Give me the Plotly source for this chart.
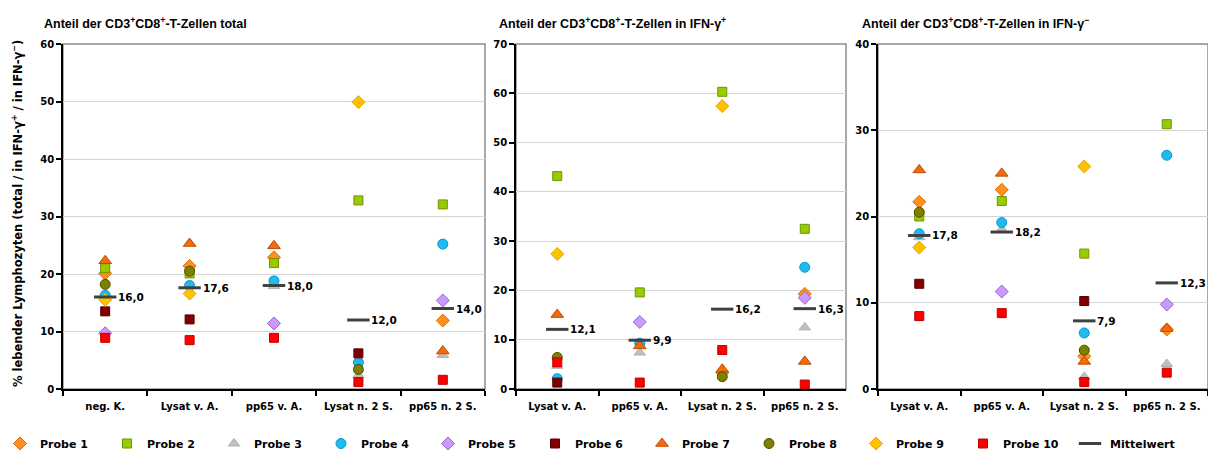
import plotly.graph_objects as go
from plotly.subplots import make_subplots

# ---- categories ----
cats_total = ["neg. K.", "Lysat v. A.", "pp65 v. A.", "Lysat n. 2 S.", "pp65 n. 2 S."]
cats_ifn = ["Lysat v. A.", "pp65 v. A.", "Lysat n. 2 S.", "pp65 n. 2 S."]

probe_names = ["Probe 1", "Probe 2", "Probe 3", "Probe 4", "Probe 5",
               "Probe 6", "Probe 7", "Probe 8", "Probe 9", "Probe 10"]

# ---- values per probe (rows) and stimulation (columns) ----
total_values = [
    [20.1, 21.4, 22.9, None, 11.9],   # Probe 1
    [21.0, 20.1, 21.9, 32.8, 32.1],   # Probe 2
    [None, None, 17.9, 2.4, 5.9],     # Probe 3
    [16.3, 18.0, 18.8, 4.6, 25.2],    # Probe 4
    [9.7, None, 11.4, None, 15.4],    # Probe 5
    [13.5, 12.1, None, 6.2, None],    # Probe 6
    [22.3, 25.3, 24.9, None, 6.6],    # Probe 7
    [18.2, 20.5, None, 3.4, None],    # Probe 8
    [15.5, 16.6, None, 49.9, None],   # Probe 9
    [8.9, 8.5, 8.9, 1.2, 1.6],        # Probe 10
]
total_means = [16.0, 17.6, 18.0, 12.0, 14.0]

ifn_pos_values = [
    [None, None, 3.3, 19.3],
    [43.2, 19.6, 60.3, 32.5],
    [4.7, 7.4, None, 12.5],
    [2.1, 9.3, None, 24.7],
    [None, 13.6, None, 18.5],
    [1.3, None, None, None],
    [15.1, 8.75, 4.0, 5.6],
    [6.4, None, 2.5, None],
    [27.4, None, 57.4, None],
    [5.4, 1.3, 7.9, 0.9],
]
ifn_pos_means = [12.1, 9.9, 16.2, 16.3]

ifn_neg_values = [
    [21.7, 23.1, 3.8, 6.9],
    [20.0, 21.8, 15.7, 30.7],
    [17.6, 18.5, 1.4, 2.9],
    [18.0, 19.3, 6.5, 27.1],
    [None, 11.3, None, 9.8],
    [12.2, None, 10.2, None],
    [25.4, 25.0, 3.2, 7.0],
    [20.5, None, 4.5, None],
    [16.4, None, 25.8, None],
    [8.45, 8.8, 0.8, 1.9],
]
ifn_neg_means = [17.8, 18.2, 7.9, 12.3]

# ---- marker styles ----
symbols = ["diamond", "square", "triangle-up", "circle", "diamond",
           "square", "triangle-up", "circle", "diamond", "square"]
fills = ["#FF8F1F", "#99CC00", "#C0C0C0", "#1EBBF0", "#CC99FF",
         "#800000", "#F26B0F", "#808000", "#FFC000", "#FF0000"]
edges = ["#E07000", "#6E9400", "#B0B0B0", "#0B95CC", "#9966CC",
         "#5A0000", "#C04A00", "#4D4D00", "#E6A800", "#C00000"]
sizes = [10, 9, 10, 10, 10, 9, 11, 10, 10, 9]
mean_color = "#404040"

W, H = 1208, 452
top_px, bot_px = 44, 389
panels = [
    (cats_total, total_values, total_means, 60, 63, 485,
     "Anteil der CD3<sup>+</sup>CD8<sup>+</sup>-T-Zellen total", 42),
    (cats_ifn, ifn_pos_values, ifn_pos_means, 70, 516, 846,
     "Anteil der CD3<sup>+</sup>CD8<sup>+</sup>-T-Zellen in IFN-γ<sup>+</sup>", 497),
    (cats_ifn, ifn_neg_values, ifn_neg_means, 40, 878, 1208,
     "Anteil der CD3<sup>+</sup>CD8<sup>+</sup>-T-Zellen in IFN-γ<sup>−</sup>", 860),
]

fig = make_subplots(rows=1, cols=3)
tick_font = dict(family="DejaVu Sans", size=10, color="#000000", weight="bold")
title_font = dict(family="Liberation Sans", size=12.5, color="#000000", weight="bold")

for p, (cats, values, means, ymax, x0, x1, title, title_x) in enumerate(panels):
    col = p + 1
    for i, name in enumerate(probe_names):
        fig.add_trace(go.Scatter(
            x=cats, y=values[i], mode="markers", name=name,
            legendgroup=name, showlegend=(p == 0), cliponaxis=False,
            marker=dict(symbol=symbols[i], size=sizes[i], color=fills[i],
                        line=dict(color=edges[i], width=1)),
        ), row=1, col=col)
    fig.add_trace(go.Scatter(
        x=cats, y=means, mode="markers", name="Mittelwert",
        legendgroup="Mittelwert", showlegend=(p == 0), cliponaxis=False,
        marker=dict(symbol="line-ew", size=16,
                    line=dict(color=mean_color, width=3)),
    ), row=1, col=col)
    for c, m in zip(cats, means):
        fig.add_annotation(
            x=c, y=m, xref=f"x{col}" if col > 1 else "x",
            yref=f"y{col}" if col > 1 else "y",
            text=f"{m:.1f}".replace(".", ","), showarrow=False,
            xanchor="left", yanchor="middle", xshift=11,
            font=dict(family="DejaVu Sans", size=10.5, color="#000000",
                      weight="bold"),
        )
    xa = "xaxis" if col == 1 else f"xaxis{col}"
    ya = "yaxis" if col == 1 else f"yaxis{col}"
    fig.layout[xa].update(
        domain=[x0 / W, x1 / W], type="category", range=[-0.5, len(cats) - 0.5],
        showline=True, linecolor="#000000", linewidth=1.5,
        ticks="outside", tickson="boundaries", ticklen=5, tickwidth=1.5,
        tickcolor="#000000", showgrid=False, tickfont=tick_font, zeroline=False,
        ticklabelstandoff=7,
    )
    fig.layout[ya].update(
        domain=[(H - bot_px) / H, (H - top_px) / H], range=[0, ymax],
        dtick=10, showline=True, linecolor="#000000", linewidth=1.5,
        ticks="outside", ticklen=5, tickwidth=1.5, tickcolor="#000000",
        showgrid=True, gridcolor="#D4D4D4", gridwidth=1, zeroline=False,
        tickfont=tick_font,
    )
    # grey frame around the plotting area
    fig.add_shape(type="rect", xref=f"{xa.replace('axis', '')} domain",
                  yref=f"{ya.replace('axis', '')} domain",
                  x0=0, x1=1, y0=0, y1=1, layer="below",
                  line=dict(color="#8C8C8C", width=1.5))
    fig.add_annotation(
        x=title_x / W, y=(H - 23) / H, xref="paper", yref="paper",
        text=title, showarrow=False, xanchor="left", yanchor="middle",
        font=title_font,
    )

fig.add_annotation(
    x=18 / W, y=(H - 214) / H, xref="paper", yref="paper",
    text="% lebender Lymphozyten (total / in IFN-γ<sup>+</sup> / in IFN-γ<sup>−</sup>)",
    textangle=-90, showarrow=False, xanchor="center", yanchor="middle",
    font=dict(family="DejaVu Sans", size=11.5, color="#000000", weight="bold"),
)

fig.update_layout(
    width=W, height=H, margin=dict(l=0, r=0, t=0, b=0, autoexpand=False),
    paper_bgcolor="#FFFFFF", plot_bgcolor="#FFFFFF",
    legend=dict(orientation="h", x=0, xanchor="left", y=-6 / H, yanchor="bottom",
                entrywidth=62, entrywidthmode="pixels", itemwidth=30,
                font=dict(family="DejaVu Sans", size=11, color="#000000",
                          weight="bold"),
                bgcolor="rgba(0,0,0,0)", tracegroupgap=0),
)

fig.write_html("out.html")
